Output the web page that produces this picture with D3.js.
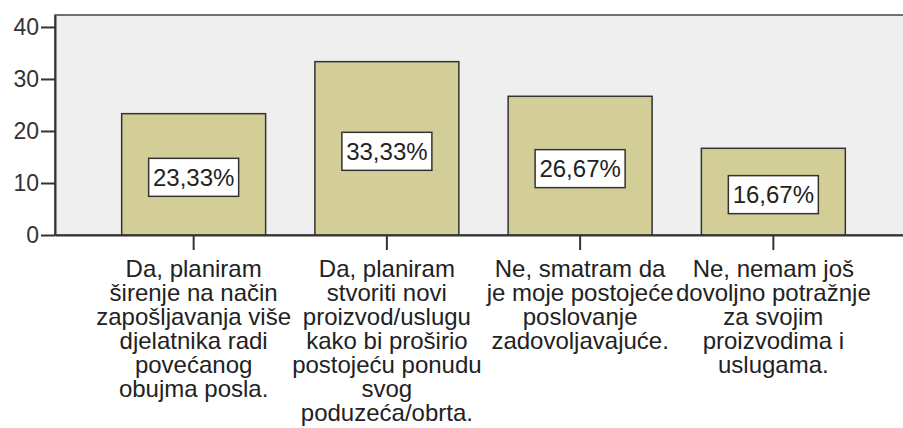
<!DOCTYPE html>
<html>
<head>
<meta charset="utf-8">
<script src="https://cdn.jsdelivr.net/npm/d3@7"></script>
<style>
  body { margin: 0; background: #fff; }
  svg { display: block; font-family: "Liberation Sans", Arial, sans-serif; }
</style>
</head>
<body>
<div id="chart"></div>
<script>
// categories (already wrapped the way the original shows them)
const categories = [
  ["Da, planiram", "širenje na način", "zapošljavanja više", "djelatnika radi", "povećanog", "obujma posla."],
  ["Da, planiram", "stvoriti novi", "proizvod/uslugu", "kako bi proširio", "postojeću ponudu", "svog", "poduzeća/obrta."],
  ["Ne, smatram da", "je moje postojeće", "poslovanje", "zadovoljavajuće."],
  ["Ne, nemam još", "dovoljno potražnje", "za svojim", "proizvodima i", "uslugama."]
];
const values = [23.33, 33.33, 26.67, 16.67];
const yTicks = [0, 10, 20, 30, 40];

const W = 903, H = 428;
const plot = { left: 55, top: 15, right: 912, bottom: 235 };

const svg = d3.select("#chart").append("svg")
  .attr("width", W)
  .attr("height", H);

const x = d3.scaleBand()
  .domain(d3.range(values.length))
  .range([plot.left, plot.right])
  .paddingInner(0.255)
  .paddingOuter(0.345);

const y = d3.scaleLinear()
  .domain([0, 42.3])
  .range([plot.bottom, plot.top]);

// plot background
svg.append("rect")
  .attr("x", plot.left)
  .attr("y", plot.top)
  .attr("width", plot.right - plot.left)
  .attr("height", plot.bottom - plot.top)
  .attr("fill", "#efefef")
  .attr("stroke", "#444")
  .attr("stroke-width", 1.5);

// bars
svg.selectAll(".bar")
  .data(values)
  .enter().append("rect")
  .attr("class", "bar")
  .attr("x", (d, i) => x(i))
  .attr("y", d => y(d))
  .attr("width", x.bandwidth())
  .attr("height", d => y(0) - y(d))
  .attr("fill", "#d3ce97")
  .attr("stroke", "#333")
  .attr("stroke-width", 1.5);

// value labels in white boxes
const fmt = v => v.toFixed(2).replace(".", ",") + "%";
const lab = svg.selectAll(".lab")
  .data(values)
  .enter().append("g")
  .attr("class", "lab")
  .attr("transform", (d, i) => `translate(${x(i) + x.bandwidth() / 2},${y(d / 2) + 3})`);

lab.append("rect")
  .attr("x", -45)
  .attr("y", -19)
  .attr("width", 90)
  .attr("height", 38)
  .attr("fill", "#fff")
  .attr("stroke", "#333")
  .attr("stroke-width", 1.5);

lab.append("text")
  .attr("text-anchor", "middle")
  .attr("dy", "0.36em")
  .attr("font-size", 24)
  .attr("fill", "#222")
  .text(fmt);

// y axis
const yAxis = svg.append("g")
  .attr("transform", `translate(${plot.left},0)`)
  .call(d3.axisLeft(y).tickValues(yTicks).tickSize(14).tickSizeOuter(0).tickPadding(2));
yAxis.select(".domain").attr("stroke", "#333").attr("stroke-width", 2);
yAxis.selectAll(".tick line").attr("stroke", "#333").attr("stroke-width", 2);
yAxis.selectAll(".tick text")
  .attr("font-size", 23)
  .attr("font-family", "Liberation Sans, Arial, sans-serif")
  .attr("fill", "#333");

// x axis
const xAxis = svg.append("g")
  .attr("transform", `translate(0,${plot.bottom})`)
  .call(d3.axisBottom(x).tickSize(15).tickSizeOuter(0).tickFormat(""));
xAxis.select(".domain").attr("stroke", "#333").attr("stroke-width", 2);
xAxis.selectAll(".tick line").attr("stroke", "#333").attr("stroke-width", 2);

// wrapped category labels
const cat = svg.selectAll(".cat")
  .data(categories)
  .enter().append("text")
  .attr("class", "cat")
  .attr("text-anchor", "middle")
  .attr("font-size", 24)
  .attr("fill", "#222")
  .attr("y", 277);

cat.selectAll("tspan")
  .data((d, i) => d.map(s => ({ s, i })))
  .enter().append("tspan")
  .attr("x", d => x(d.i) + x.bandwidth() / 2)
  .attr("dy", (d, j) => j === 0 ? 0 : 24)
  .text(d => d.s);
</script>
</body>
</html>
